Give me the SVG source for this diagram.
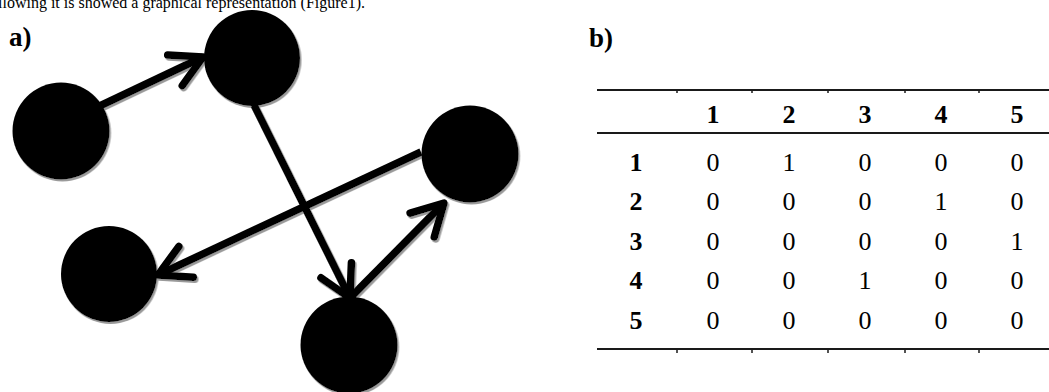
<svg xmlns="http://www.w3.org/2000/svg" width="1049" height="392" viewBox="0 0 1049 392">
<style>
.txt{font-family:"Liberation Serif","Times New Roman",serif;fill:#000}
.lbl{font-weight:bold;font-size:27px}
.hd{font-weight:bold;font-size:26px;text-anchor:middle}
.cell{font-size:26px;text-anchor:middle}
.node circle{fill:#000}
.edge{stroke:#000;stroke-width:7.5;fill:none;marker-end:url(#arr)}
.rule{stroke:#1a1a1a;stroke-width:2}
.tick{stroke:#1a1a1a;stroke-width:1.5}
.shd{filter:url(#ds)}
</style>
<defs>
<filter id="ds" x="-20%" y="-20%" width="140%" height="140%">
<feDropShadow dx="1.5" dy="2" stdDeviation="0.6" flood-color="#9a9a9a" flood-opacity="1"/>
</filter>
<marker id="arr" viewBox="-40 -25 50 50" refX="0" refY="0" markerWidth="50" markerHeight="50" markerUnits="userSpaceOnUse" orient="auto">
<path d="M-31,-17 L0,0 L-31,17" fill="none" stroke="#000" stroke-width="7.5" stroke-linecap="round" stroke-linejoin="round"/>
</marker>
</defs>
<rect width="1049" height="392" fill="#fff"/>
<text class="txt" x="-2" y="8" font-size="16">llowing it is showed a graphical representation (Figure1).</text>
<text class="txt lbl" x="9" y="46">a)</text>
<text class="txt lbl" x="589" y="47">b)</text>
<g class="shd">
<g id="node1" class="node"><circle cx="61" cy="131" r="48.5"/></g>
<g id="node2" class="node"><circle cx="252" cy="58" r="48"/></g>
<g id="node3" class="node"><circle cx="470" cy="154" r="48.5"/></g>
<g id="node4" class="node"><circle cx="349" cy="345" r="48.5"/></g>
<g id="node5" class="node"><circle cx="109" cy="274" r="48"/></g>
<g id="connectors">
<line class="edge" x1="87" y1="112" x2="203" y2="57"/>
<line class="edge" x1="254" y1="105" x2="350" y2="298"/>
<line class="edge" x1="421" y1="152" x2="158" y2="275"/>
<line class="edge" x1="350" y1="298" x2="444" y2="203"/>
</g>
</g>
<g id="table">
<line class="rule" x1="597" y1="90" x2="1049" y2="90"/>
<line class="rule" x1="597" y1="133" x2="1049" y2="133"/>
<line class="rule" x1="597" y1="349" x2="1049" y2="349"/>
<g class="tick">
<line x1="677" y1="90" x2="677" y2="93"/><line x1="752" y1="90" x2="752" y2="93"/><line x1="828" y1="90" x2="828" y2="93"/><line x1="905" y1="90" x2="905" y2="93"/><line x1="979" y1="90" x2="979" y2="93"/>
<line x1="677" y1="349" x2="677" y2="353"/><line x1="752" y1="349" x2="752" y2="353"/><line x1="828" y1="349" x2="828" y2="353"/><line x1="905" y1="349" x2="905" y2="353"/><line x1="979" y1="349" x2="979" y2="353"/>
</g>
<g class="txt hd">
<text x="713" y="123">1</text><text x="789" y="123">2</text><text x="865" y="123">3</text><text x="941" y="123">4</text><text x="1017" y="123">5</text>
<text x="636" y="171">1</text><text x="636" y="210">2</text><text x="636" y="250">3</text><text x="636" y="289">4</text><text x="636" y="329">5</text>
</g>
<g class="txt cell">
<text x="713" y="171">0</text><text x="789" y="171">1</text><text x="865" y="171">0</text><text x="941" y="171">0</text><text x="1017" y="171">0</text>
<text x="713" y="210">0</text><text x="789" y="210">0</text><text x="865" y="210">0</text><text x="941" y="210">1</text><text x="1017" y="210">0</text>
<text x="713" y="250">0</text><text x="789" y="250">0</text><text x="865" y="250">0</text><text x="941" y="250">0</text><text x="1017" y="250">1</text>
<text x="713" y="289">0</text><text x="789" y="289">0</text><text x="865" y="289">1</text><text x="941" y="289">0</text><text x="1017" y="289">0</text>
<text x="713" y="329">0</text><text x="789" y="329">0</text><text x="865" y="329">0</text><text x="941" y="329">0</text><text x="1017" y="329">0</text>
</g>
</g>
</svg>
